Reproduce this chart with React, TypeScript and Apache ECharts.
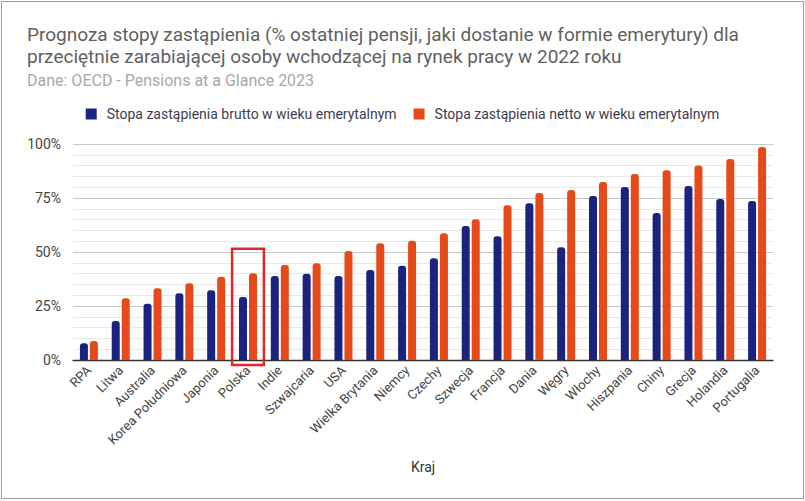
import React, { useEffect, useRef } from "react";
import * as echarts from "echarts";

const titleLines = [
  "Prognoza stopy zastąpienia (% ostatniej pensji, jaki dostanie w formie emerytury) dla",
  "przeciętnie zarabiającej osoby wchodzącej na rynek pracy w 2022 roku",
];
const subtitle = "Dane: OECD - Pensions at a Glance 2023";
const xAxisName = "Kraj";

const categories = [
  "RPA", "Litwa", "Australia", "Korea Południowa", "Japonia", "Polska", "Indie",
  "Szwajcaria", "USA", "Wielka Brytania", "Niemcy", "Czechy", "Szwecja", "Francja",
  "Dania", "Węgry", "Włochy", "Hiszpania", "Chiny", "Grecja", "Holandia", "Portugalia",
];
const seriesNames = [
  "Stopa zastąpienia brutto w wieku emerytalnym",
  "Stopa zastąpienia netto w wieku emerytalnym",
];
const grossValues = [
  7.7, 18.1, 26.0, 30.9, 32.3, 29.2, 38.9, 39.9, 38.9, 41.7, 43.6,
  47.1, 62.0, 57.3, 72.6, 52.2, 75.9, 80.1, 68.0, 80.5, 74.5, 73.6,
];
const netValues = [
  8.8, 28.6, 33.2, 35.5, 38.5, 40.2, 44.0, 44.8, 50.5, 54.1, 55.2,
  58.7, 65.2, 71.7, 77.3, 78.7, 82.4, 86.1, 87.9, 90.0, 93.0, 98.6,
];
const yTicks = [0, 25, 50, 75, 100];
const highlightCategory = "Polska";
const highlightTopValue = 51.5;

const FONT = "Roboto, 'Noto Sans', sans-serif";
const BLUE = "#1a237e";
const ORANGE = "#e64a19";

export default function App() {
  const ref = useRef<HTMLDivElement>(null);

  useEffect(() => {
    if (!ref.current) return;
    document.body.style.margin = "0";
    const chart = echarts.init(ref.current, undefined, { renderer: "svg" });
    const W = 805;
    const H = 501;
    const titleStyle = {
      fontFamily: FONT,
      fontSize: 19,
      fontWeight: "normal",
      color: "#5f5f5f",
      lineHeight: 22,
    };
    chart.setOption({
      animation: false,
      backgroundColor: "#ffffff",
      textStyle: { fontFamily: FONT },
      title: [
        {
          text: titleLines[0],
          left: 27,
          top: 23,
          padding: 0,
          textStyle: titleStyle,
        },
        {
          text: titleLines[1],
          subtext: subtitle,
          left: 27,
          top: 45.5,
          padding: 0,
          itemGap: 4,
          textStyle: titleStyle,
          subtextStyle: {
            fontFamily: FONT,
            fontSize: 16,
            color: "#a8a8a8",
            lineHeight: 18,
          },
        },
      ],
      legend: {
        top: 107,
        left: "center",
        padding: 0,
        icon: "rect",
        itemWidth: 11,
        itemHeight: 11,
        itemGap: 17,
        textStyle: {
          fontFamily: FONT,
          fontSize: 14,
          color: "#3d3d4d",
          padding: [0, 0, 0, 5],
        },
        data: seriesNames,
      },
      grid: { left: 73, right: 32, top: 144, bottom: H - 360 },
      xAxis: {
        type: "category",
        data: categories,
        name: xAxisName,
        nameLocation: "middle",
        nameGap: 100,
        nameTextStyle: { fontFamily: FONT, fontSize: 14, color: "#333" },
        axisLine: { show: true, lineStyle: { color: "#333", width: 1.3 } },
        axisTick: { show: false },
        axisLabel: {
          interval: 0,
          rotate: 45,
          margin: 8,
          fontSize: 13,
          color: "#444",
          fontFamily: FONT,
        },
      },
      yAxis: {
        type: "value",
        min: yTicks[0],
        max: yTicks[yTicks.length - 1],
        interval: yTicks[1] - yTicks[0],
        axisLine: { show: false },
        axisTick: { show: false },
        axisLabel: {
          formatter: "{value}%",
          fontSize: 14,
          color: "#444",
          margin: 12,
          fontFamily: FONT,
        },
        splitLine: { show: true, lineStyle: { color: "#c9c9c9", width: 1 } },
        minorTick: { show: false, splitNumber: 5 },
        minorSplitLine: { show: true, lineStyle: { color: "#e8e8e8", width: 1 } },
      },
      series: [
        {
          name: seriesNames[0],
          type: "bar",
          data: grossValues,
          barWidth: 8,
          barGap: "25%",
          itemStyle: { color: BLUE, borderRadius: [3, 3, 0, 0] },
        },
        {
          name: seriesNames[1],
          type: "bar",
          data: netValues,
          barWidth: 8,
          barGap: "25%",
          itemStyle: { color: ORANGE, borderRadius: [3, 3, 0, 0] },
        },
      ],
    });

    const idx = categories.indexOf(highlightCategory);
    const cx = chart.convertToPixel({ xAxisIndex: 0 }, categories[idx]) as number;
    const nx = chart.convertToPixel({ xAxisIndex: 0 }, categories[idx + 1]) as number;
    const band = nx - cx;
    const yTop = chart.convertToPixel({ yAxisIndex: 0 }, highlightTopValue) as number;
    const yBase = chart.convertToPixel({ yAxisIndex: 0 }, 0) as number;

    chart.setOption({
      graphic: [
        {
          id: "frame",
          type: "rect",
          silent: true,
          shape: { x: 1.5, y: 1.5, width: W - 3, height: H - 4 },
          style: { fill: "none", stroke: "#9e9e9e", lineWidth: 1 },
        },
        {
          id: "highlight",
          type: "rect",
          silent: true,
          z: 100,
          shape: { x: cx - band / 2, y: yTop, width: band, height: yBase - yTop + 5 },
          style: { fill: "none", stroke: "#e3262b", lineWidth: 2.5 },
        },
      ],
    });

    return () => chart.dispose();
  }, []);

  return (
    <div
      ref={ref}
      style={{ position: "absolute", left: 0, top: 0, width: 805, height: 501 }}
    />
  );
}
